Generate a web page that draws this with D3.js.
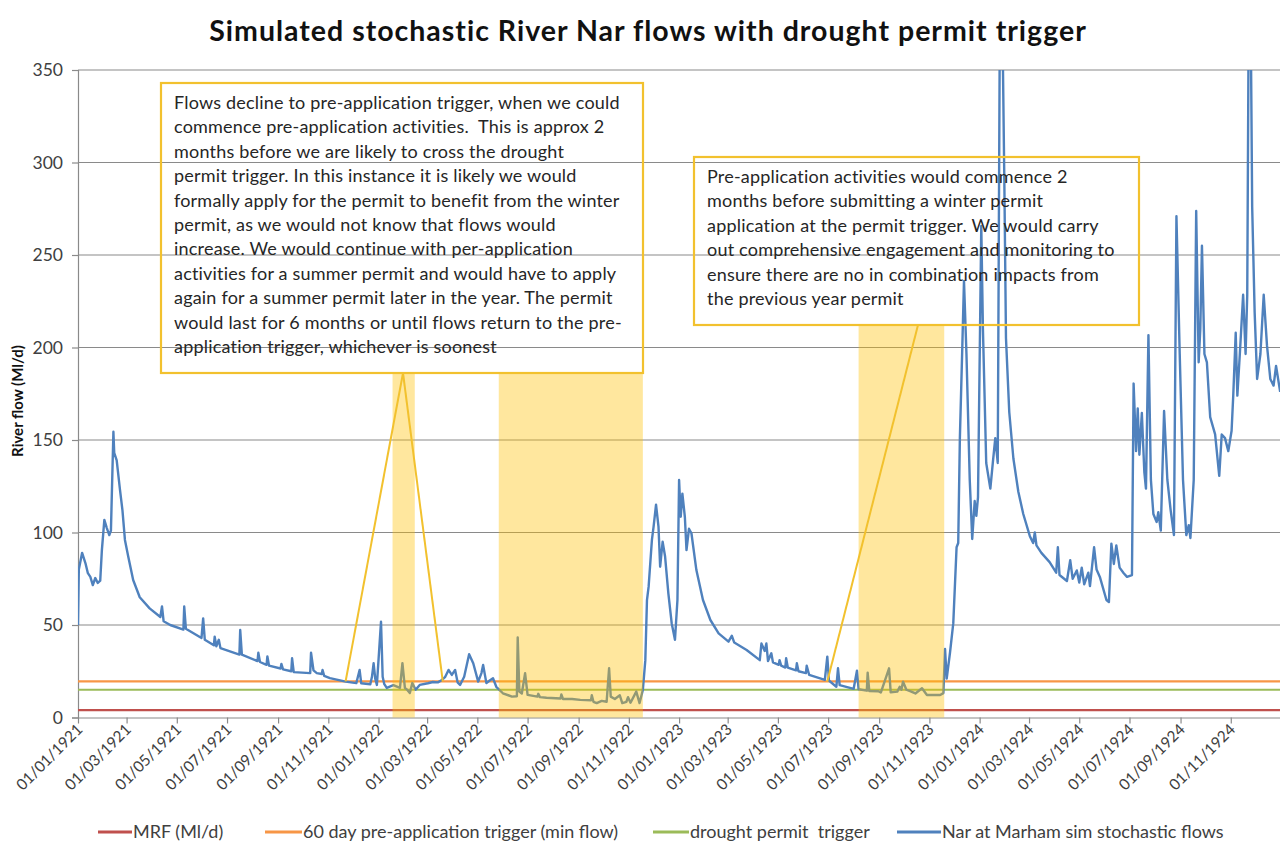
<!DOCTYPE html>
<html>
<head>
<meta charset="utf-8">
<script src="https://cdn.jsdelivr.net/npm/d3@7"></script>
<style>
  body { margin: 0; background: #fff; }
  svg { font-family: Lato, "Open Sans", sans-serif; }
  text { white-space: pre; }
</style>
</head>
<body>
<div id="chart"></div>
<script>
let width = 1280,
	height = 843;

// simulated flow: days since 01/01/1921 and Ml/d
const flowDay = [
	0, 1, 5, 9, 12, 15, 18, 21, 24, 27, 29, 32, 35, 38, 40, 43, 44, 47, 51, 54, 57, 61, 67, 75, 87,
	100, 102, 104, 112, 128, 129, 131, 150, 152, 154, 165, 166, 168, 171, 173, 196, 197, 199, 218, 219, 221,
	229, 230, 232, 246, 247, 249, 259, 260, 262, 282, 283, 286, 290, 296, 297, 299, 306, 325, 338, 342, 344,
	355, 357, 359, 361, 363, 368, 370, 372, 375, 383, 391, 394, 397, 400, 403, 406, 410, 415, 425, 431, 437,
	442, 446, 450, 454, 458, 461, 464, 469, 475, 480, 486, 490, 492, 496, 500, 504, 508, 516, 527, 533, 534,
	536, 539, 543, 546, 558, 559, 561, 569, 586, 587, 589, 600, 610, 623, 624, 626, 630, 636, 642, 645, 647,
	652, 658, 661, 666, 668, 671, 678, 682, 686, 689, 691, 693, 697, 699, 702, 705, 707, 710, 713, 717, 721,
	725, 728, 730, 732, 734, 737, 739, 742, 745, 751, 759, 768, 778, 790, 794, 797, 812, 828, 830, 834, 836,
	838, 842, 844, 851, 852, 854, 859, 860, 862, 872, 873, 875, 884, 885, 888, 907, 910, 912, 921, 923, 925,
	933, 942, 946, 948, 958, 959, 961, 972, 975, 985, 987, 995, 998, 1000, 1002, 1006, 1012, 1017, 1025, 1031,
	1039, 1047, 1051, 1053, 1055, 1059, 1063, 1067, 1069, 1071, 1074, 1076, 1079, 1083, 1086, 1089, 1091, 1093,
	1097, 1099, 1103, 1108, 1111, 1114, 1117, 1120, 1122, 1125, 1127, 1131, 1136, 1142, 1148, 1156, 1160, 1162,
	1164, 1170, 1180, 1188, 1190, 1192, 1201, 1205, 1208, 1213, 1216, 1219, 1222, 1227, 1229, 1234, 1237, 1241,
	1249, 1252, 1255, 1258, 1261, 1265, 1270, 1274, 1280, 1282, 1285, 1287, 1289, 1292, 1295, 1297, 1300, 1303,
	1306, 1310, 1312, 1315, 1319, 1323, 1327, 1331, 1334, 1338, 1342, 1346, 1349, 1351, 1355, 1358, 1361, 1363,
	1365, 1368, 1371, 1375, 1381, 1386, 1389, 1393, 1397, 1401, 1403, 1406, 1408, 1411, 1415, 1418, 1420, 1422,
	1424, 1426, 1429, 1432, 1436, 1440, 1444, 1448, 1452, 1455, 1460
];
const flowMl = [
	50, 80, 89, 83.5, 78, 76, 71.6, 75.4, 72.7, 74, 90.5, 106.8, 102.4, 98.6, 101, 154.5, 143, 139, 123, 112, 96, 87, 74.3, 65, 59,
	54.3, 60, 52, 50, 47.5, 60, 48, 43, 53.6, 42, 39, 43.7, 38.5, 42, 37.5, 34, 47.3, 34, 30.5, 35, 30,
	28.5, 33, 28, 26.5, 29, 26, 25, 32, 24.5, 24, 35, 25.5, 24, 23.5, 25.7, 22.5, 21.3, 19.4, 18.6, 25.7, 18.5,
	18, 22, 29.3, 21, 17.6, 51.8, 22, 18, 16, 17.5, 16, 29.4, 16, 14.9, 13.2, 18.6, 15, 17.6, 18.5, 19.2, 19,
	20.3, 22, 25.7, 23, 25.7, 19, 17.6, 22, 34.2, 29.3, 19.4, 24, 28.4, 18.6, 20, 21.2, 16.6, 13.1, 11.3, 11.5, 43.3,
	14, 13, 23.9, 12.2, 11.3, 12.8, 11, 10.7, 10.3, 12.5, 10, 10, 9.5, 9.3, 12, 8.5, 7.8, 9, 8.5, 26.6, 11.3,
	10, 12, 7.8, 8.5, 11, 8, 14, 7.8, 14.9, 31, 63.5, 70.7, 96, 103, 115, 103, 81.5, 95, 87, 67, 51,
	42, 63.5, 128.4, 108.5, 121, 108.5, 90.5, 102, 99.6, 79.7, 63.5, 52.7, 45.5, 41, 44.2, 40.5, 36.5, 31, 40, 36, 40,
	30.5, 34.7, 29.8, 28.5, 31, 28, 27, 32, 27, 25.5, 29.3, 25, 24, 28, 23, 20.3, 32.9, 20, 16.6, 26.6, 17.5,
	16.6, 15.5, 25.3, 15.3, 14.5, 24.2, 14.3, 14.2, 13.5, 26.6, 13.6, 14, 16.6, 15, 19.4, 15, 14, 13, 15.8, 12.2,
	12.2, 12.2, 13.2, 37, 21, 35, 51, 92, 94.3, 151, 201, 236, 196.5, 128.4, 96.5, 117, 109, 119,
	265.7, 210, 137.6, 123.7, 137.6, 151, 137.6, 420, 400, 290, 205, 165, 140, 122, 110, 98, 94.3, 100,
	93, 89, 84, 78.3, 92, 77, 73.8, 85, 75, 79.5, 73, 81, 72, 78.3, 71, 92, 80, 76,
	63.5, 62.4, 94, 83, 93, 81, 78, 76, 77, 180.5, 144, 167, 142, 164.6, 132.8, 123.7, 206.7, 128.4,
	110, 105.7, 111, 101, 165.7, 128.4, 112, 98.6, 271, 196.5, 128.4, 98.6, 104, 97, 128.4, 273.8, 192, 210,
	255, 196.5, 192, 162.4, 153, 130.6, 153, 151, 144, 155, 174, 208, 174, 196.5, 228.5, 196.5, 228.5, 400,
	390, 276, 219, 183, 196.5, 228.5, 201, 183, 179.4, 190, 176
];

// flat thresholds (Ml/d)
const mrfFlow = 4;
const preAppFlow = 19.5;
const droughtFlow = 15;

const legendNames = ["MRF (Ml/d)", "60 day pre-application trigger (min flow)", "drought permit  trigger", "Nar at Marham sim stochastic flows"];
const legendColors = ["#C0504D", "#F79646", "#9BBB59", "#4F81BD"];

// permit periods shaded on the chart
const bandStart = ["1922-01-18", "1922-05-27", "1923-08-07"];
const bandEnd = ["1922-02-14", "1922-11-18", "1923-11-19"];
const bandTop = [186, 186, 212];

const yTicks = [0, 50, 100, 150, 200, 250, 300, 350];

const note1 = [
	"Flows decline to pre-application trigger, when we could",
	"commence pre-application activities.  This is approx 2",
	"months before we are likely to cross the drought",
	"permit trigger. In this instance it is likely we would",
	"formally apply for the permit to benefit from the winter",
	"permit, as we would not know that flows would",
	"increase. We would continue with per-application",
	"activities for a summer permit and would have to apply",
	"again for a summer permit later in the year. The permit",
	"would last for 6 months or until flows return to the pre-",
	"application trigger, whichever is soonest"
];
const note2 = [
	"Pre-application activities would commence 2",
	"months before submitting a winter permit",
	"application at the permit trigger. We would carry",
	"out comprehensive engagement and monitoring to",
	"ensure there are no in combination impacts from",
	"the previous year permit"
];
// where the callout pointers land (date, Ml/d)
const note1Targets = [["1921-11-22", 19.5], ["1922-03-20", 19.5]];
const note2Targets = [["1923-06-30", 19.5]];

let parseDate = d3.timeParse("%Y-%m-%d");
let formatDate = d3.timeFormat("%d/%m/%Y");
let start = parseDate("1921-01-01");
let end = parseDate("1925-01-01");

let flows = flowDay.map((d, i) => ({ date: d3.timeDay.offset(start, d), value: flowMl[i] }));

let svg = d3.select('#chart').append('svg')
	.attr('width', width)
	.attr('height', height);

let x = d3.scaleTime()
	.domain([start, end])
	.range([78, 1281]);

let y = d3.scaleLinear()
	.domain([0, 350])
	.range([717.5, 70]);

// title
svg.append('text')
	.attr('x', 648).attr('y', 41)
	.attr('text-anchor', 'middle')
	.style('font-weight', 'bold').style('font-size', '28.5px').style('letter-spacing', '1px').style('fill', '#111')
	.text("Simulated stochastic River Nar flows with drought permit trigger");

// gridlines
svg.append('g').selectAll('line')
	.data(yTicks.slice(1))
	.enter().append('line')
	.attr('x1', 78).attr('x2', width)
	.attr('y1', d => y(d)).attr('y2', d => y(d))
	.attr('stroke', '#8a8a8a').attr('stroke-width', 1.2);

// y axis
let yAxis = svg.append('g')
	.attr('transform', 'translate(78,0)')
	.call(d3.axisLeft(y).tickValues(yTicks).tickSize(6).tickPadding(9));
yAxis.select('.domain').attr('stroke', '#8a8a8a').attr('stroke-width', 1.2);
yAxis.selectAll('line').attr('stroke', '#8a8a8a').attr('stroke-width', 1.2);
yAxis.selectAll('text').style('font-size', '17.5px').style('fill', '#404040').style('font-family', 'Lato, sans-serif');

svg.append('text')
	.attr('transform', 'translate(23,401) rotate(-90)')
	.attr('text-anchor', 'middle')
	.style('font-weight', 'bold').style('font-size', '15px').style('fill', '#111')
	.text("River flow (Ml/d)");

// x axis, one label every two months up to Nov 1924
let xTicks = d3.timeMonth.every(2).range(start, end);
let xAxis = svg.append('g')
	.attr('transform', 'translate(0,717.5)')
	.call(d3.axisBottom(x).tickValues(xTicks).tickFormat(formatDate).tickSize(6).tickSizeOuter(0));
xAxis.select('.domain').attr('stroke', '#8a8a8a').attr('stroke-width', 1.2);
xAxis.selectAll('line').attr('stroke', '#8a8a8a').attr('stroke-width', 1.2);
xAxis.selectAll('text')
	.attr('x', 0).attr('y', 0).attr('dy', 0)
	.attr('transform', 'translate(5,13) rotate(-45)')
	.style('text-anchor', 'end')
	.style('font-size', '15.5px').style('fill', '#404040').style('font-family', 'Lato, sans-serif');

// clip to the plot area
svg.append('clipPath').attr('id', 'plot')
	.append('rect').attr('x', 78).attr('y', 70).attr('width', 1210).attr('height', 648);

let plot = svg.append('g').attr('clip-path', 'url(#plot)');

// threshold lines
[mrfFlow, preAppFlow, droughtFlow].forEach(function (v, i) {
	plot.append('line')
		.attr('x1', x(start)).attr('x2', x(end))
		.attr('y1', y(v)).attr('y2', y(v))
		.attr('stroke', legendColors[i]).attr('stroke-width', 2.2);
});

// simulated flows
plot.append('path')
	.datum(flows)
	.attr('fill', 'none')
	.attr('stroke', legendColors[3])
	.attr('stroke-width', 2.4)
	.attr('stroke-linejoin', 'round')
	.attr('d', d3.line().x(d => x(d.date)).y(d => y(d.value)));

// shaded permit periods
plot.selectAll('.band')
	.data(bandStart)
	.enter().append('rect').classed('band', true)
	.attr('x', d => x(parseDate(d)))
	.attr('width', (d, i) => x(parseDate(bandEnd[i])) - x(parseDate(d)))
	.attr('y', (d, i) => y(bandTop[i]))
	.attr('height', (d, i) => y(0) - y(bandTop[i]))
	.attr('fill', '#FFC000').attr('fill-opacity', 0.38);

// callout boxes
function callout(lines, box, apex, targets) {
	let g = svg.append('g');
	targets.forEach(function (t) {
		g.append('line')
			.attr('x1', apex[0]).attr('y1', apex[1])
			.attr('x2', x(parseDate(t[0]))).attr('y2', y(t[1]))
			.attr('stroke', '#F2C12E').attr('stroke-width', 2);
	});
	g.append('rect')
		.attr('x', box.x).attr('y', box.y).attr('width', box.w).attr('height', box.h)
		.attr('fill', 'none').attr('stroke', '#F2C12E').attr('stroke-width', 2.2);
	g.selectAll('text')
		.data(lines)
		.enter().append('text')
		.attr('x', box.x + 13)
		.attr('y', (d, i) => box.y + 26 + i * 24.4)
		.style('font-size', '18px').style('letter-spacing', '0.2px').style('fill', '#262626')
		.text(d => d);
}

callout(note1, { x: 161, y: 83, w: 482, h: 290 }, [403, 373], note1Targets);
callout(note2, { x: 694, y: 157, w: 445, h: 168 }, [918, 325], note2Targets);

// legend
let legendLineX = [98, 265, 653, 897];
let legendTextX = [133, 303, 690, 942];
let legend = svg.append('g').attr('transform', 'translate(0,832)');
legendNames.forEach(function (name, i) {
	legend.append('line')
		.attr('x1', legendLineX[i]).attr('x2', legendTextX[i] - 1)
		.attr('y1', 0).attr('y2', 0)
		.attr('stroke', legendColors[i]).attr('stroke-width', 3);
	legend.append('text')
		.attr('x', legendTextX[i]).attr('y', 6)
		.style('font-size', '18px').style('fill', '#404040')
		.text(name);
});
</script>
</body>
</html>
